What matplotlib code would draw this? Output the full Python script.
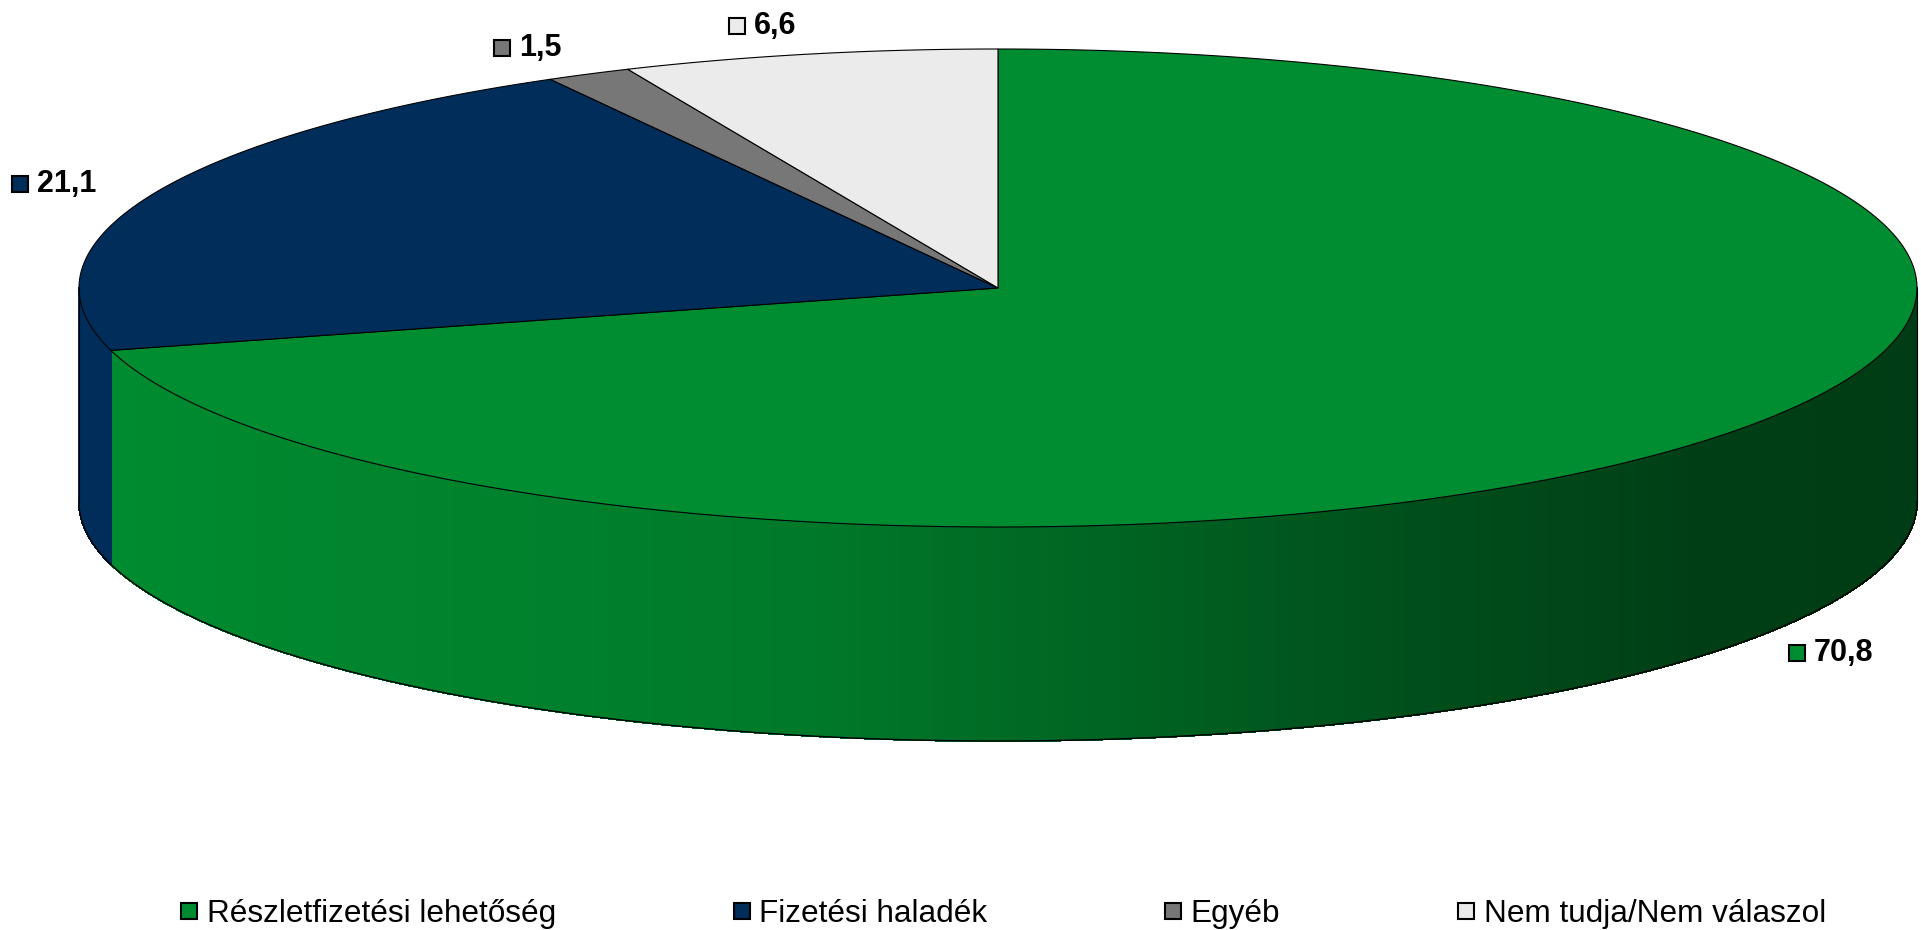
import numpy as np
import matplotlib.pyplot as plt
from matplotlib.patches import Polygon
from matplotlib.collections import PolyCollection
from matplotlib.lines import Line2D

plt.rcParams['font.family'] = ['Liberation Sans', 'DejaVu Sans']

# adatok
categories = ['Részletfizetési lehetőség', 'Fizetési haladék', 'Egyéb', 'Nem tudja/Nem válaszol']
values = [70.8, 21.1, 1.5, 6.6]
labels = ['70,8', '21,1', '1,5', '6,6']
colors = ['#008C30', '#002D5A', '#777777', '#EBEBEB']

W, H = 1921, 930
cx, cy = 998, 288      # a felső ellipszis közepe (pixel)
a, b = 919, 239        # féltengelyek
depth = 214            # a henger magassága

fig = plt.figure(figsize=(W / 100, H / 100), dpi=100)
ax = fig.add_axes([0, 0, 1, 1])
ax.set_xlim(0, W)
ax.set_ylim(H, 0)
ax.axis('off')


def pt(t, dy=0.0):
    t = np.radians(t)
    return cx + a * np.cos(t), cy - b * np.sin(t) + dy


def shade(x):
    # oldalfal sötétedése balról jobbra
    return np.interp(x, [cx - a, 800, 1400, 1700, cx + a], [1.0, 0.87, 0.57, 0.45, 0.43])


fr = np.array(values) / sum(values)
ends = 90 - 360 * np.cumsum(fr)
starts = np.concatenate([[90], ends[:-1]])
mids = (starts + ends) / 2

# oldalfalak (csak az elülső félkör látszik)
for i in range(len(values)):
    for k in (-2, -1, 0, 1):
        lo = max(ends[i], -180 + 360 * k)
        hi = min(starts[i], 360 * k)
        if hi <= lo:
            continue
        th = np.linspace(lo, hi, max(2, int((hi - lo) * 4)))
        polys, fcs = [], []
        base = np.array(plt.matplotlib.colors.to_rgb(colors[i]))
        for t0, t1 in zip(th[:-1], th[1:]):
            x0, y0 = pt(t0)
            x1, y1 = pt(t1)
            polys.append([(x0, y0), (x1, y1), (x1, y1 + depth), (x0, y0 + depth)])
            fcs.append(base * shade((x0 + x1) / 2))
        ax.add_collection(PolyCollection(polys, facecolors=fcs, edgecolors=fcs,
                                         linewidths=0.8, antialiased=False))

# alsó ív és oldalsó kontúr
tb = np.linspace(180, 360, 400)
xb, yb = pt(tb, depth)
ax.plot(xb, yb, color='black', lw=1.0)
for t in (180, 360):
    x0, y0 = pt(t)
    ax.plot([x0, x0], [y0, y0 + depth], color='black', lw=0.8)

# felső cikkek
for i in range(len(values)):
    th = np.linspace(starts[i], ends[i], 300)
    xs, ys = pt(th)
    verts = [(cx, cy)] + list(zip(xs, ys))
    ax.add_patch(Polygon(verts, closed=True, facecolor=colors[i], edgecolor='black', lw=0.8))

# adatfeliratok
fig.canvas.draw()
r = fig.canvas.get_renderer()
for i, m in enumerate(mids):
    c, s = np.cos(np.radians(m)), np.sin(np.radians(m))
    lx = cx + a * (1.05 if c > 0 else 1.065) * c
    ly = cy - b * (1.1 if s < 0 else 1.12) * s + (depth * 0.96 if s < 0 else 0)
    t = ax.text(0, ly, labels[i], fontsize=22, fontweight='bold', va='center', ha='left')
    w = t.get_window_extent(r).width
    msz, gap = 18, 8
    x0 = lx + 24 if c > 0 else lx - (msz + gap + w)
    t.set_x(x0 + msz + gap)
    ax.plot(x0 + msz / 2, ly, marker='s', ms=11.5, mfc=colors[i], mec='black', mew=1.5)

# jelmagyarázat
handles = [Line2D([], [], marker='s', ls='', ms=11.5, mfc=col, mec='black', mew=1.5) for col in colors]
fig.legend(handles, categories, loc='center', bbox_to_anchor=(0.522, 1 - 914 / 930), ncol=4,
           frameon=False, fontsize=22.7, handlelength=0.6, handletextpad=0.25, columnspacing=5.6)

fig.savefig('out.png', dpi=100)
